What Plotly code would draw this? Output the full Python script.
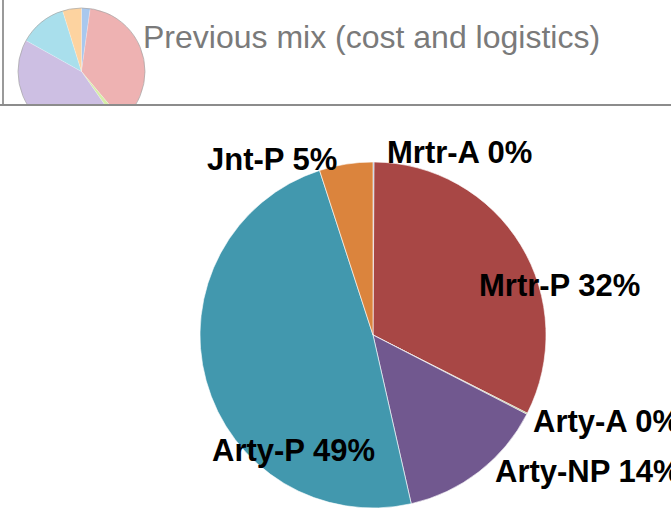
import plotly.graph_objects as go

W, H = 671, 519

categories = ["Mrtr-A", "Mrtr-P", "Arty-A", "Arty-NP", "Arty-P", "Jnt-P"]
current_values = [0.1, 32.4, 0.1, 13.9, 48.6, 5.0]
previous_values = [2.2, 36.7, 1.4, 42.8, 12.1, 4.8]
main_colors = ["#4572A7", "#A84745", "#89A54E", "#71588F", "#4298AE", "#DB843D"]
thumb_colors = ["#A9C8EE", "#EEB2B2", "#D6EEA8", "#CDBFE3", "#A9DFEC", "#FDD3A0"]
header_text = "Previous mix (cost and logistics)"


def px(x):
    return x / W


def py(y):
    return 1 - y / H


fig = go.Figure()

# main pie: centre (373,335), radius 173
fig.add_trace(go.Pie(
    labels=categories, values=current_values, sort=False, direction="clockwise",
    rotation=0, textinfo="none", hoverinfo="skip", showlegend=False,
    marker=dict(colors=main_colors, line=dict(color="rgba(255,255,255,0.6)", width=1)),
    domain=dict(x=[px(200), px(546)], y=[py(508), py(162)]),
))

# thumbnail pie of the previous mix
fig.add_trace(go.Pie(
    labels=categories, values=previous_values, sort=False, direction="clockwise",
    rotation=0, textinfo="none", hoverinfo="skip", showlegend=False,
    marker=dict(colors=thumb_colors, line=dict(color="rgba(255,255,255,0.4)", width=0.5)),
    domain=dict(x=[px(18), px(145)], y=[py(135), py(8)]),
))

shapes = [
    dict(type="circle", xref="paper", yref="paper", x0=px(18), x1=px(145), y0=py(135), y1=py(8),
         line=dict(color="rgba(150,150,150,0.6)", width=1), layer="above"),
    dict(type="rect", xref="paper", yref="paper", x0=0, x1=px(200), y0=py(140), y1=py(105),
         fillcolor="white", line=dict(width=0), layer="above"),
    dict(type="line", xref="paper", yref="paper", x0=0, x1=1, y0=py(105), y1=py(105),
         line=dict(color="#8c8c8c", width=2), layer="above"),
    dict(type="line", xref="paper", yref="paper", x0=px(3), x1=px(3), y0=py(104), y1=1,
         line=dict(color="#9a9a9a", width=2), layer="above"),
]

total = sum(current_values)
pcts = [v / total * 100 for v in current_values]
label_text = {c: f"<b>{c} {p:.0f}%</b>" for c, p in zip(categories, pcts)}

# label placements (left edge px, cap-centre px)
label_pos = {
    "Mrtr-A": (385, 152),
    "Jnt-P": (205, 159),
    "Mrtr-P": (477, 285),
    "Arty-A": (531, 421),
    "Arty-NP": (493, 471),
    "Arty-P": (210, 450),
}

lab_font = dict(family="Liberation Sans, Arial, sans-serif", size=31, color="black")
annotations = []
for c in categories:
    lx, ly = label_pos[c]
    annotations.append(dict(text=label_text[c], x=px(lx), y=py(ly), xref="paper", yref="paper",
                            xanchor="left", yanchor="middle", showarrow=False, font=lab_font))

annotations.append(dict(text=header_text, x=px(141), y=py(37), xref="paper", yref="paper",
                        xanchor="left", yanchor="middle", showarrow=False,
                        font=dict(family="Liberation Sans, Arial, sans-serif", size=32, color="#7a7a7a")))

fig.update_layout(
    width=W, height=H, margin=dict(l=0, r=0, t=0, b=0),
    paper_bgcolor="white", plot_bgcolor="white",
    shapes=shapes, annotations=annotations, showlegend=False,
)

fig.write_html("out.html", config={"displayModeBar": False},
               post_script="document.body.style.margin='0';document.body.style.overflow='hidden';")
